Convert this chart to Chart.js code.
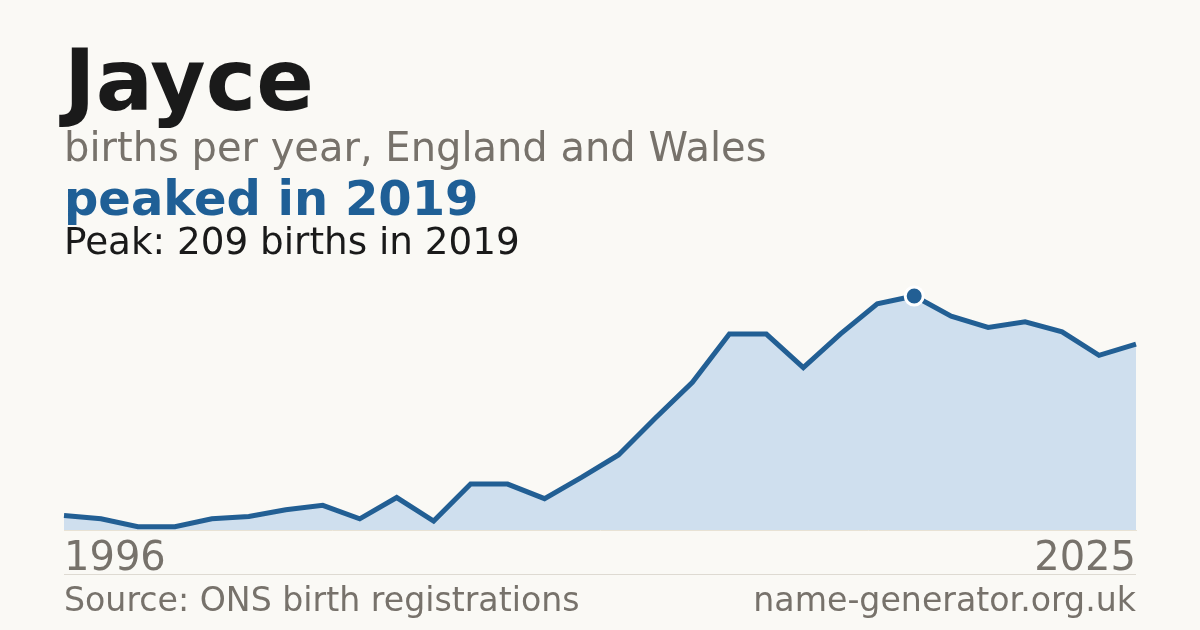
<!DOCTYPE html>
<html>
<head>
<meta charset="utf-8">
<script src="https://cdn.jsdelivr.net/npm/chart.js@4/dist/chart.umd.min.js"></script>
<style>
  html, body { margin: 0; padding: 0; background: #faf9f5; }
  body { width: 1200px; height: 630px; position: relative; overflow: hidden; font-family: "DejaVu Sans", sans-serif; }
  #wrap { position: absolute; left: 0; top: 0; width: 1200px; height: 630px; }
  .t { position: absolute; left: 64px; white-space: nowrap; line-height: 1; }
  #title { top: 38px; font-size: 85px; font-weight: bold; color: #1a1a1a; }
  #sub { top: 127px; font-size: 40px; color: #77726b; }
  #hook { top: 174px; font-size: 48px; font-weight: bold; color: #1f5f96; }
  #peak { top: 223px; font-size: 37.3px; color: #1a1a1a; }
  #rule { position: absolute; left: 64px; width: 1072px; top: 574px; height: 1px; background: #dedad2; }
  #src { top: 583px; font-size: 33.2px; color: #77726b; }
  #site { position: absolute; right: 64px; top: 583px; font-size: 33.2px; color: #77726b; white-space: nowrap; line-height: 1; }
</style>
</head>
<body>
<div id="wrap"><canvas id="c" width="1200" height="630"></canvas></div>
<div class="t" id="title">Jayce</div>
<div class="t" id="sub">births per year, England and Wales</div>
<div class="t" id="hook">peaked in 2019</div>
<div class="t" id="peak">Peak: 209 births in 2019</div>
<div id="rule"></div>
<div class="t" id="src">Source: ONS birth registrations</div>
<div id="site">name-generator.org.uk</div>
<script>
const years = [1996,1997,1998,1999,2000,2001,2002,2003,2004,2005,2006,2007,2008,2009,2010,2011,2012,2013,2014,2015,2016,2017,2018,2019,2020,2021,2022,2023,2024,2025];
const births = [13,10,3,3,10,12,18,22,10,29,8,41,41,28,47,67,100,132,175,175,145,175,202,209,191,181,186,177,156,166];
const peakYear = 2019;

const peakIdx = years.indexOf(peakYear);
const lineColor = '#225f94';

new Chart(document.getElementById('c'), {
  type: 'line',
  data: {
    labels: years.map(String),
    datasets: [{
      data: births,
      borderColor: lineColor,
      borderWidth: 5,
      backgroundColor: '#cfdfee',
      fill: 'origin',
      tension: 0,
      clip: false,
      pointRadius: births.map((v, i) => i === peakIdx ? 9 : 0),
      pointBackgroundColor: lineColor,
      pointBorderColor: '#ffffff',
      pointBorderWidth: 3,
      pointHoverRadius: 0
    }]
  },
  options: {
    responsive: false,
    animation: false,
    devicePixelRatio: 1,
    layout: { padding: { left: 64, right: 64, top: 296, bottom: 0 } },
    plugins: { legend: { display: false }, tooltip: { enabled: false } },
    scales: {
      x: {
        offset: false,
        grid: { display: false, drawTicks: false },
        border: { display: true, color: '#e8e2d4', width: 1 },
        ticks: {
          autoSkip: false,
          maxRotation: 0,
          align: 'inner',
          padding: 6,
          color: '#77726b',
          font: { family: 'DejaVu Sans', size: 40 },
          callback: function(v, i, arr) { return (i === 0 || i === arr.length - 1) ? this.getLabelForValue(v) : ''; }
        },
        afterFit: function(s) { s.height = 100; }
      },
      y: {
        display: false,
        min: 0,
        max: Math.max(...births)
      }
    }
  }
});
</script>
</body>
</html>
